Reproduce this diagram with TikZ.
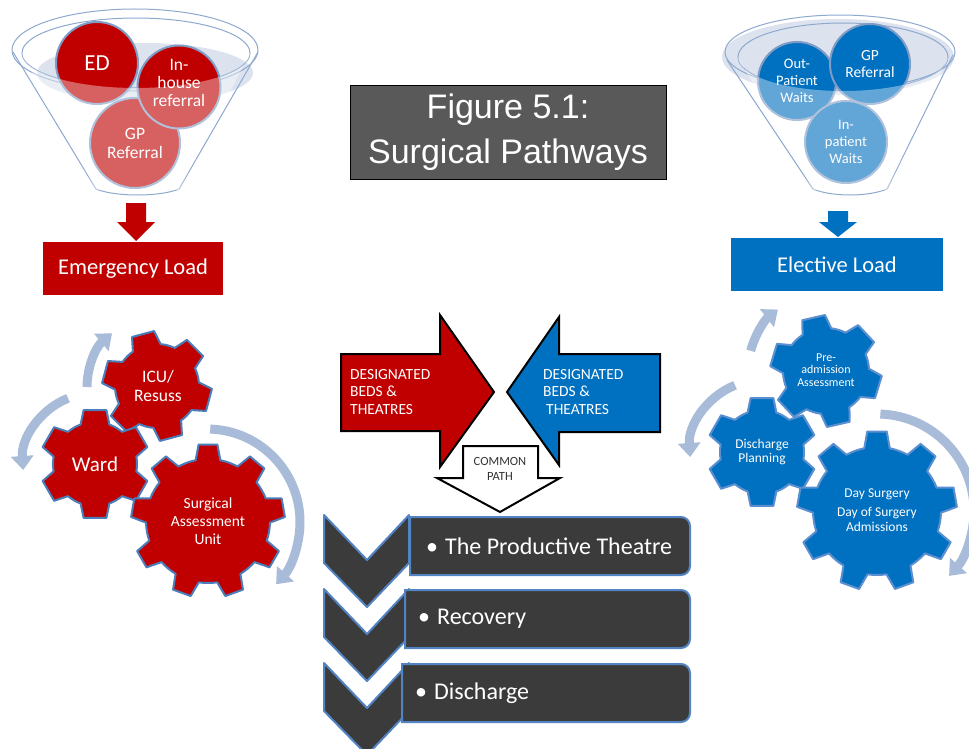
\documentclass[tikz,border=0pt]{standalone}
\usepackage{fontspec}
\setmainfont{Carlito}
\newfontfamily\arialf{Liberation Sans}
\usetikzlibrary{arrows.meta}
\definecolor{cred}{HTML}{C00000}
\definecolor{cblue}{HTML}{0070C0}
\definecolor{gearedgeR}{HTML}{4A7DBA}
\definecolor{gearedgeB}{HTML}{5B8FD0}
\definecolor{arcc}{HTML}{A8BBD9}
\definecolor{funline}{HTML}{8EA9CF}
\definecolor{funfill}{HTML}{DCE3EE}
\definecolor{circedge}{HTML}{7E9CC6}
\definecolor{chev}{HTML}{3B3B3B}
\definecolor{chevedge}{HTML}{5284C4}
\definecolor{titlegray}{HTML}{595959}
\newcommand\mygear[9]{%
 \pgfmathsetmacro\gP{360/#5}%
 \pgfmathtruncatemacro\gN{#5-1}%
 \begin{scope}[shift={(#1,#2)}]
 \filldraw[#9] ({#6-#7}:#3) \foreach \k in {0,...,\gN}{ -- ({#6+\k*\gP-#8}:#4) -- ({#6+\k*\gP+#8}:#4) -- ({#6+\k*\gP+#7}:#3) arc[start angle={#6+\k*\gP+#7}, end angle={#6+(\k+1)*\gP-#7}, radius=#3] } -- cycle;
 \end{scope}}
\begin{document}
\begin{tikzpicture}[x=1pt,y=-1pt,
  gearR/.style={fill=cred, draw=gearedgeR, line width=2pt, line join=round},
  gearB/.style={fill=cblue, draw=gearedgeB, line width=2pt, line join=round},
  cyc/.style={draw=arcc, line width=9pt, -{Triangle[width=22pt,length=14pt]}},
  funl/.style={draw=funline, line width=1pt},
  fcR/.style={circle, fill=cred, draw=circedge, line width=2pt, text=white, align=center, inner sep=0pt},
  fcB/.style={circle, fill=cblue, draw=circedge, line width=2pt, text=white, align=center, inner sep=0pt},
  gtext/.style={text=white, align=center, inner sep=0pt},
  chevron/.style={fill=chev, draw=chevedge, line width=2pt, line join=round},
  listbox/.style={fill=chev, draw=chevedge, line width=2pt},
  bigarrow/.style={draw=black, line width=2pt, line join=miter},
  loadbox/.style={text=white, font=\fontsize{22.5}{26}\selectfont, inner sep=0pt},
  listtext/.style={text=white, anchor=west, inner sep=0pt, font=\fontsize{24}{27}\selectfont}
]
\useasboundingbox[fill=white] (0,0) rectangle (969,749);

% ---------- left funnel ----------
\fill[funfill] (145,73) ellipse[x radius=108, y radius=30];
\draw[funl] (13,52) -- (96,189) .. controls (115,197) and (160,197) .. (179,189) -- (258,52);
\draw[funl] (135,50) ellipse[x radius=123, y radius=41];
\draw[funl] (136,53) ellipse[x radius=114, y radius=35];
\node[fcR, minimum size=82pt, font=\fontsize{23}{25}\selectfont] (ed) at (97,63) {ED};
\node[fcR, minimum size=90pt, font=\fontsize{17.5}{19}\selectfont] (gpl) at (135,143) {GP\\Referral};
\node[fcR, minimum size=83pt] (inhouse) at (179,87) {};
\node[gtext, font=\fontsize{17.5}{18}\selectfont] (inhouset) at (179,83) {In-\\house\\referral};
\fill[white, opacity=0.38] (22,53) arc[start angle=180, end angle=0, x radius=114, y radius=35] -- (179,190) -- (96,190) -- cycle;

% ---------- right funnel ----------
\fill[funfill] (838,57) ellipse[x radius=116, y radius=38];
\draw[funl] (727,60) -- (813,189) .. controls (832,197) and (868,197) .. (887,189) -- (953,55);
\draw[funl] (840,52) ellipse[x radius=115, y radius=37];
\draw[funl] (843,57) ellipse[x radius=105, y radius=34];
\node[fcB, minimum size=78pt, font=\fontsize{14.5}{17}\selectfont] (outp) at (797,81) {Out-\\Patient\\Waits};
\node[fcB, minimum size=80pt, font=\fontsize{15.5}{17}\selectfont] (gpr) at (870,64) {GP\\Referral};
\node[fcB, minimum size=82pt, font=\fontsize{14.5}{17}\selectfont] (inp) at (846,142) {In-\\patient\\Waits};
\fill[white, opacity=0.38] (738,57) arc[start angle=180, end angle=0, x radius=105, y radius=34] -- (887,190) -- (813,190) -- cycle;

% ---------- title ----------
\node[draw=black, line width=0.8pt, fill=titlegray, minimum width=316pt, minimum height=94pt, text=white, font=\arialf\fontsize{34}{45}\selectfont, align=center] (title) at (508,132) {Figure 5.1:\\Surgical Pathways};

% ---------- down arrows and load boxes ----------
\fill[cred] (126,203) -- (146,203) -- (146,222) -- (155,222) -- (136,241) -- (117,222) -- (126,222) -- cycle;
\fill[cblue] (828,211) -- (848,211) -- (848,222) -- (857,222) -- (838,237) -- (819,222) -- (828,222) -- cycle;
\node[loadbox, fill=cred, minimum width=180pt, minimum height=53pt] (eload) at (133,268.5) {Emergency Load};
\node[loadbox, fill=cblue, minimum width=212pt, minimum height=53pt] (lload) at (837,264.5) {Elective Load};

% ---------- left gears ----------
\draw[cyc] (157,387) ++(180:70) arc[start angle=180, end angle=230, radius=70];
\draw[cyc] (95,465) ++(248:72) arc[start angle=248, end angle=176, radius=72];
\draw[cyc] (207,522) ++(-88:93) arc[start angle=-88, end angle=42, radius=93];
\mygear{157}{386}{42}{55}{6}{-105}{20}{12}{gearR}
\mygear{95}{464}{42}{55}{6}{-90}{20}{12}{gearR}
\mygear{208}{521}{62}{77}{9}{-90}{11.5}{7}{gearR}
\node[gtext, font=\fontsize{17.5}{19}\selectfont] (icu) at (158,386) {ICU/\\Resuss};
\node[gtext, font=\fontsize{21}{23}\selectfont] (ward) at (95,464) {Ward};
\node[gtext, font=\fontsize{15.5}{18}\selectfont] (sau) at (208,521) {Surgical\\Assessment\\Unit};

% ---------- right gears ----------
\draw[cyc] (826,371) ++(195:78) arc[start angle=195, end angle=232, radius=78];
\draw[cyc] (762,452) ++(248:72) arc[start angle=248, end angle=176, radius=72];
\draw[cyc] (877,511) ++(-88:97) arc[start angle=-88, end angle=42, radius=97];
\mygear{826}{371}{43}{56}{6}{-103}{20}{12}{gearB}
\mygear{762}{452}{42}{55}{6}{-90}{20}{12}{gearB}
\mygear{877}{511}{64}{80}{9}{-90}{11.5}{7}{gearB}
\node[gtext, font=\fontsize{12}{12.8}\selectfont] (preadm) at (826,370) {Pre-\\admission\\Assessment};
\node[gtext, font=\fontsize{13.5}{14.5}\selectfont] (dplan) at (762,452) {Discharge\\Planning};
\node[gtext, font=\fontsize{13.5}{15}\selectfont] (dsurg) at (877,510) {Day Surgery\\[4pt]Day of Surgery\\Admissions};

% ---------- middle arrows ----------
\draw[bigarrow, fill=white] (463,446) -- (538,446) -- (538,478) -- (560,478) -- (500,512) -- (437,478) -- (463,478) -- cycle;
\draw[bigarrow, fill=cred] (341,354) -- (440,354) -- (440,315) -- (494,392) -- (440,467) -- (440,431) -- (341,431) -- cycle;
\draw[bigarrow, fill=cblue] (660,354) -- (559,354) -- (559,317) -- (507,392) -- (559,465) -- (559,432) -- (660,432) -- cycle;
\node[text=white, align=left, anchor=west, inner sep=0pt, font=\fontsize{15.5}{17.5}\selectfont] (dbl) at (350,392) {DESIGNATED\\BEDS \&\\THEATRES};
\node[text=white, align=left, anchor=west, inner sep=0pt, font=\fontsize{15.5}{17.5}\selectfont] (dbr) at (543,392) {DESIGNATED\\BEDS \&\\\hspace{3pt}THEATRES};
\node[text=black!80, align=center, inner sep=0pt, font=\fontsize{12.5}{15}\selectfont] (cpath) at (500,469) {COMMON\\PATH};

% ---------- chevron list ----------
\foreach \yy in {515,589,663}{
  \draw[chevron] (324,\yy) -- (367,\yy+45) -- (409,\yy) -- (409,\yy+48) -- (367,\yy+92) -- (324,\yy+48) -- cycle;
}
\draw[listbox] (410,517) [rounded corners=9pt] -- (690,517) -- (690,575) [sharp corners] -- (410,575) -- cycle;
\draw[listbox] (405,590) [rounded corners=9pt] -- (690,590) -- (690,648) [sharp corners] -- (405,648) -- cycle;
\draw[listbox] (402,664) [rounded corners=9pt] -- (690,664) -- (690,722) [sharp corners] -- (402,722) -- cycle;
\node[listtext] (l1) at (426,546) {\textbullet\hspace{7pt}The Productive Theatre};
\node[listtext] (l2) at (418,619) {\textbullet\hspace{7pt}Recovery};
\node[listtext] (l3) at (415,693) {\textbullet\hspace{7pt}Discharge};
\end{tikzpicture}
\end{document}
